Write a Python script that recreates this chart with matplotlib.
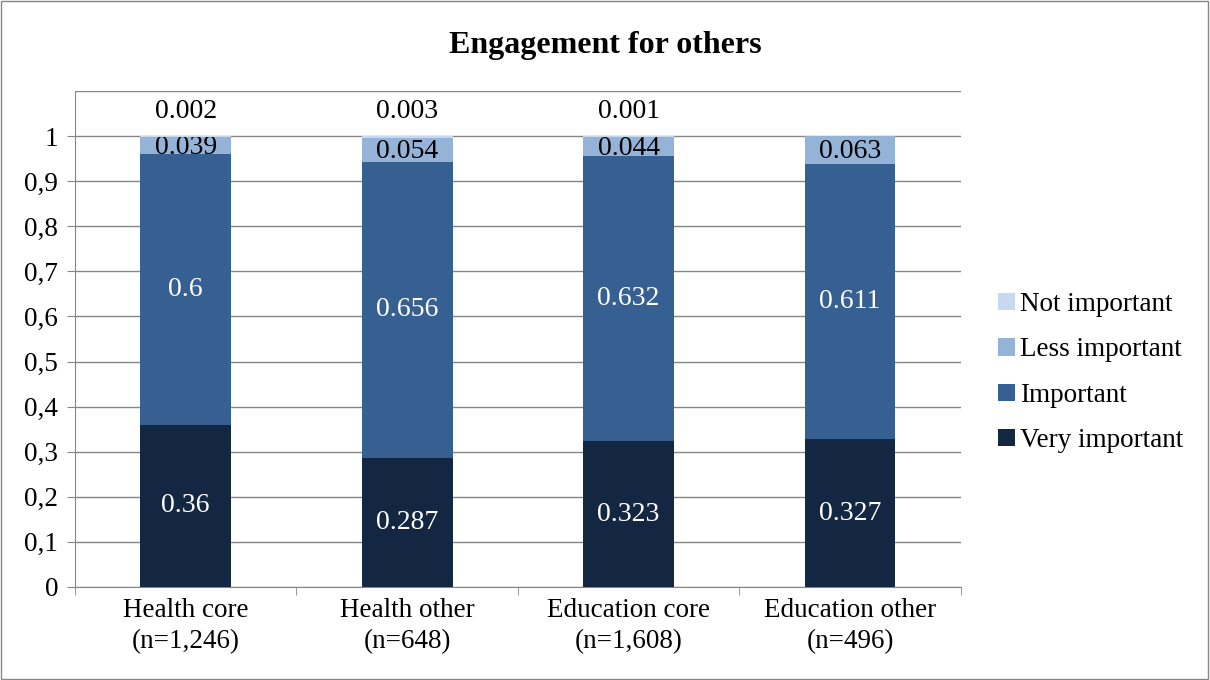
import matplotlib.pyplot as plt
from matplotlib.patches import Rectangle
import numpy as np

plt.rcParams['font.family'] = ['Liberation Serif', 'DejaVu Serif']

categories = ['Health core\n(n=1,246)', 'Health other\n(n=648)',
              'Education core\n(n=1,608)', 'Education other\n(n=496)']
very_important = [0.36, 0.287, 0.323, 0.327]
important = [0.6, 0.656, 0.632, 0.611]
less_important = [0.039, 0.054, 0.044, 0.063]
not_important = [0.002, 0.003, 0.001, 0.0]
series_names = ['Very important', 'Important', 'Less important', 'Not important']
series_colors = ['#132742', '#376092', '#95B3D7', '#C6D9F1']

fig = plt.figure(figsize=(12.1, 6.8), dpi=100)
ax = fig.add_axes([0.062, 0.137, 0.732, 0.729])

x = np.arange(len(categories))
w = 0.41
fs = 19.5
bottom = np.zeros(len(categories))
series = [very_important, important, less_important, not_important]
for vals, name, col in zip(series, series_names, series_colors):
    vals = np.array(vals)
    ax.bar(x, vals, w, bottom=bottom, color=col, label=name, zorder=3)
    for i, v in enumerate(vals):
        if v == 0:
            continue
        if name == 'Not important':
            ax.text(x[i], 1.055, f'{v:g}', ha='center', va='center', fontsize=20, color='black')
        elif name == 'Less important':
            ax.text(x[i], bottom[i] + v / 2 - 0.004, f'{v:g}', ha='center', va='center',
                    fontsize=20, color='black')
        else:
            ax.text(x[i], bottom[i] + v / 2, f'{v:g}', ha='center', va='center',
                    fontsize=20, color='white')
    bottom = bottom + vals

ax.set_xlim(-0.5, len(categories) - 0.5)
ax.set_ylim(0, 1.1)
yt = np.round(np.arange(0, 1.01, 0.1), 1)
ax.set_yticks(yt)
ax.set_yticklabels([f'{t:g}'.replace('.', ',') for t in yt], fontsize=fs)
ax.set_xticks(x)
ax.set_xticklabels(categories, fontsize=fs, linespacing=1.3)
ax.set_xticks(np.arange(-0.5, len(categories), 1), minor=True)
ax.tick_params(axis='x', which='major', length=0, pad=8)
ax.tick_params(axis='x', which='minor', length=6, color='#868686')
ax.tick_params(axis='y', length=6, color='#868686', pad=6)
for t in list(yt) + [1.1]:
    ax.axhline(t, color='#868686', lw=1, zorder=1)
for s in ['top', 'right']:
    ax.spines[s].set_visible(False)
for s in ['left', 'bottom']:
    ax.spines[s].set_color('#868686')

h, l = ax.get_legend_handles_labels()
fig.legend(h[::-1], l[::-1], loc='center left', bbox_to_anchor=(0.805, 0.452),
           frameon=False, fontsize=fs, handlelength=0.6, handleheight=0.6,
           handletextpad=0.2, labelspacing=0.75)

fig.suptitle('Engagement for others', fontsize=23, fontweight='bold', y=0.955)
fig.patches.append(Rectangle((0.001, 0.001), 0.997, 0.997, transform=fig.transFigure,
                             fill=False, edgecolor='#868686', lw=1))

fig.savefig('out.png', dpi=100)
